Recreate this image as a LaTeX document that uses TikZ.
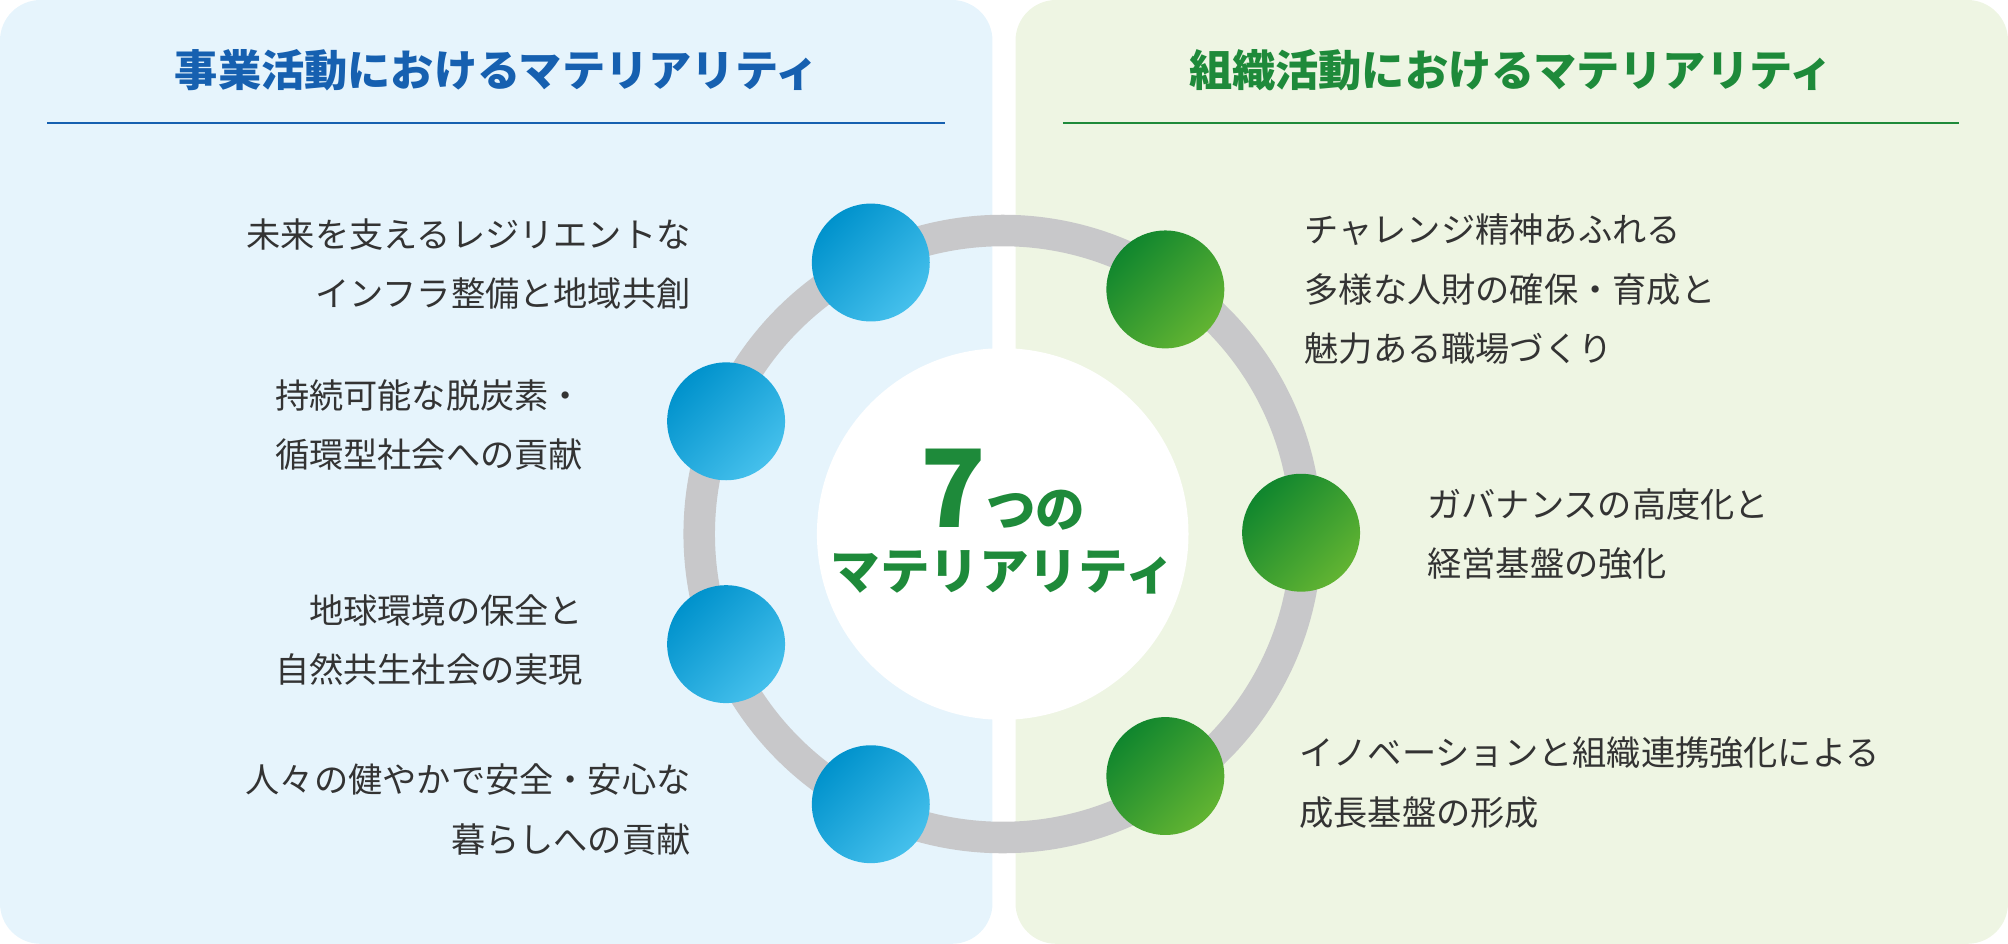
\documentclass[tikz,border=0pt]{standalone}
\usepackage{fontspec}
\newfontfamily\cjk{Noto Sans CJK JP}
\definecolor{bizbg}{HTML}{E6F4FC}
\definecolor{orgbg}{HTML}{EEF5E3}
\definecolor{bizblue}{HTML}{1660B0}
\definecolor{orggreen}{HTML}{1E8A3A}
\definecolor{ringgray}{HTML}{C8C8CA}
\definecolor{txtgray}{HTML}{333333}
\definecolor{bluedark}{HTML}{0092CC}
\definecolor{bluelight}{HTML}{45C0EC}
\definecolor{greendark}{HTML}{10862E}
\definecolor{greenlight}{HTML}{62B432}
\tikzset{
  panel/.style={rounded corners=9pt, draw=none},
  head/.style={font=\cjk\bfseries\fontsize{9.6}{10}\selectfont},
  item/.style={font=\cjk\fontsize{7.6}{13.2}\selectfont, text=txtgray, align=left, inner sep=0},
  itemr/.style={item, align=right},
  bluedot/.style={circle, minimum size=0.92cm, inner sep=0, left color=bluedark, right color=bluelight, shading angle=45},
  greendot/.style={circle, minimum size=0.92cm, inner sep=0, left color=greendark, right color=greenlight, shading angle=45}
}
\begin{document}
\begin{tikzpicture}[x=0.01cm, y=-0.01cm]
\useasboundingbox (0,0) rectangle (1568,737);

% Panels
\fill[panel, bizbg] (0,0) rectangle (775,737);
\fill[panel, orgbg] (793,0) rectangle (1568,737);

% Headers
\node[head, text=bizblue] (bizhead) at (388,55) {事業活動におけるマテリアリティ};
\node[head, text=orggreen] (orghead) at (1180,55) {組織活動におけるマテリアリティ};
\draw[bizblue, line width=0.4pt] (37,96) -- (738,96);
\draw[orggreen, line width=0.4pt] (830,96) -- (1530,96);

% Ring and centre
\draw[ringgray, line width=7pt] (783,417) circle (237);
\node[circle, fill=white, minimum size=2.9cm] (core) at (783,417) {};
\node[font=\cjk\bfseries, text=orggreen, anchor=base] (seven) at (783,412)
  {{\fontsize{24}{24}\selectfont 7}{\fontsize{11}{12}\selectfont つの}};
\node[font=\cjk\bfseries\fontsize{11}{12}\selectfont, text=orggreen] (mat) at (783,447) {マテリアリティ};

% Dots
\node[bluedot] (b1) at (680,205) {};
\node[bluedot] (b2) at (567,329) {};
\node[bluedot] (b3) at (567,503) {};
\node[bluedot] (b4) at (680,628) {};
\node[greendot] (g1) at (910,226) {};
\node[greendot] (g2) at (1016,416) {};
\node[greendot] (g3) at (910,606) {};

% Labels
\node[itemr, anchor=east] (t1) at (540,206) {未来を支えるレジリエントな\\インフラ整備と地域共創};
\node[itemr, anchor=east] (t2) at (456,332) {持続可能な脱炭素・\\循環型社会への貢献};
\node[itemr, anchor=east] (t3) at (456,500) {地球環境の保全と\\自然共生社会の実現};
\node[itemr, anchor=east] (t4) at (540,632) {人々の健やかで安全・安心な\\暮らしへの貢献};
\node[item, anchor=west] (u1) at (1018,226) {チャレンジ精神あふれる\\多様な人財の確保・育成と\\魅力ある職場づくり};
\node[item, anchor=west] (u2) at (1114,417) {ガバナンスの高度化と\\経営基盤の強化};
\node[item, anchor=west] (u3) at (1014,611) {イノベーションと組織連携強化による\\成長基盤の形成};
\end{tikzpicture}
\end{document}
